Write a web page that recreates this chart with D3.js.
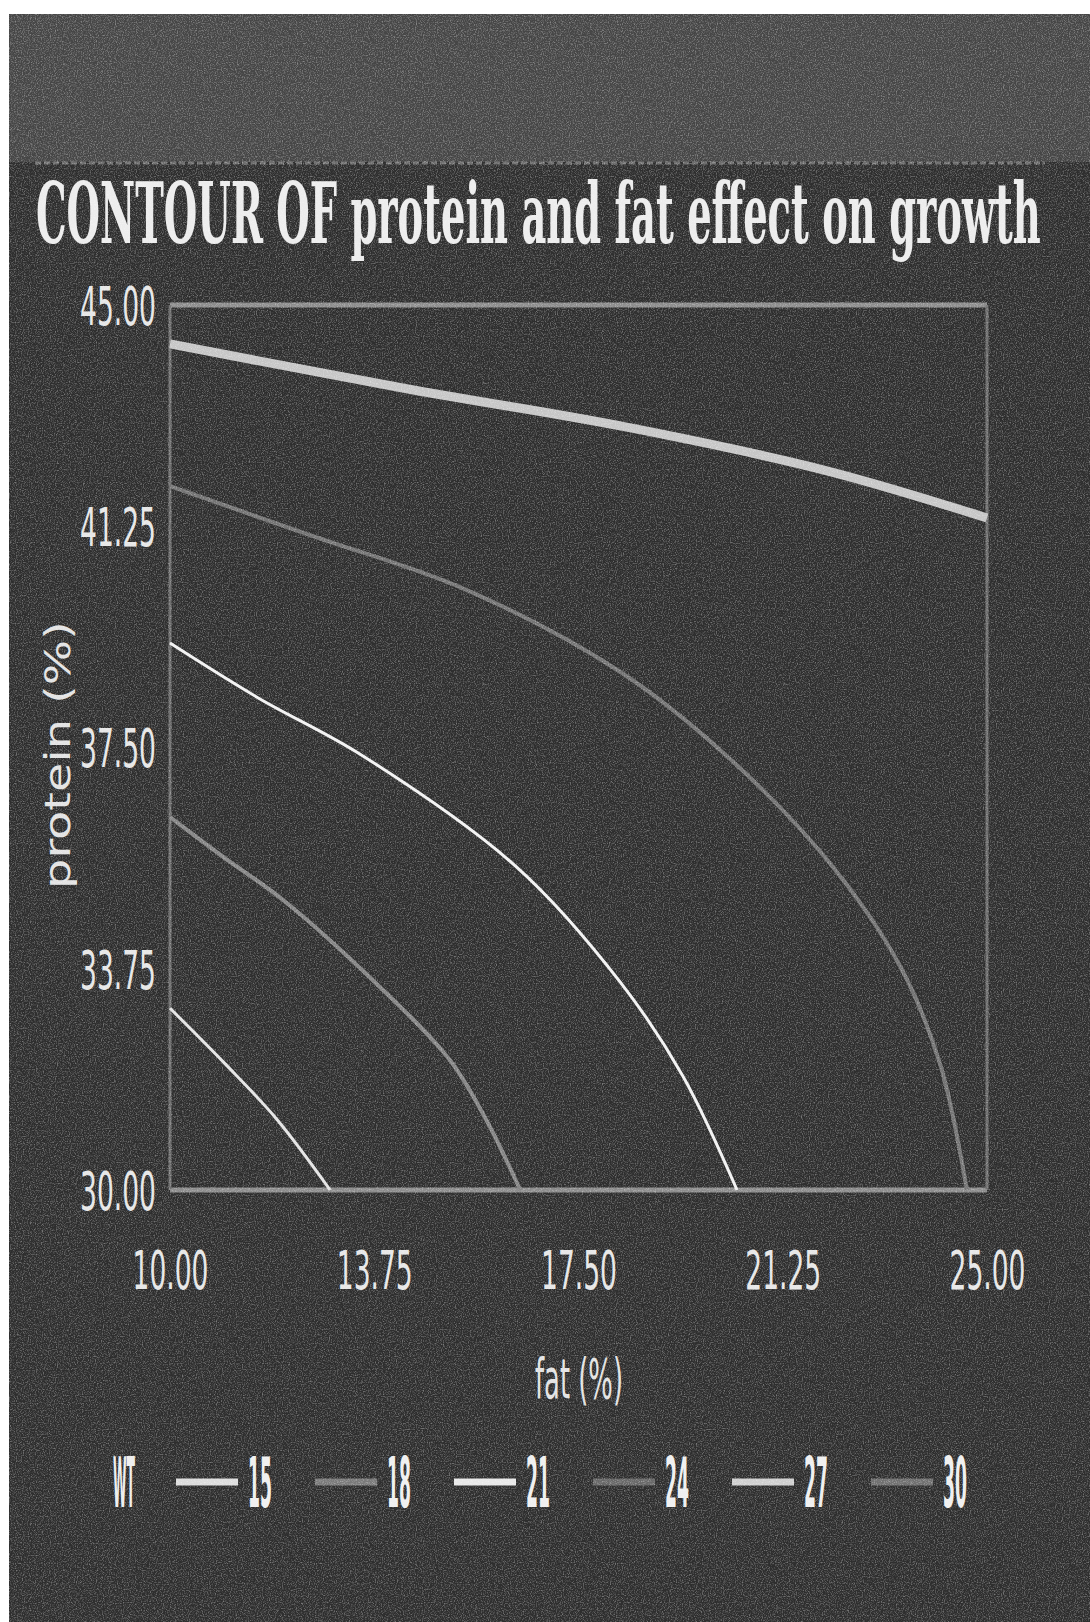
<!DOCTYPE html>
<html>
<head>
<meta charset="utf-8">
<script src="https://cdn.jsdelivr.net/npm/d3@7"></script>
<style>
  html, body { margin: 0; padding: 0; background: #fff; }
  svg { display: block; }
</style>
</head>
<body>
<div id="chart"></div>
<script>
const W = 1090
const H = 1622

// axis values
const fatTicks = [10, 13.75, 17.5, 21.25, 25]
const proteinTicks = [45, 41.25, 37.5, 33.75, 30]
const levels = [15, 18, 21, 24, 27, 30]

// contour lines: [fat, protein]
const c15 = [[10, 33.08], [11, 32.15], [11.96, 31.2], [12.94, 30]]
const c18 = [[10, 36.32], [11, 35.63], [12.07, 34.92], [13.91, 33.39], [15.14, 32.2], [15.8, 31.2], [16.43, 30]]
const c21 = [[10, 39.27], [11.62, 38.34], [13.52, 37.37], [16.37, 35.47], [18.27, 33.52], [19.41, 31.94], [20.41, 30]]
const c24 = [[10, 41.93], [12.57, 41.1], [15.42, 40.18], [18.27, 38.78], [20.17, 37.4], [22.06, 35.6], [23.4, 33.8], [24.15, 32.1], [24.63, 30]]
const c27 = [[10, 44.34], [14.47, 43.56], [18.27, 42.95], [22.06, 42.19], [25, 41.39]]
const c30 = []
const contours = [c15, c18, c21, c24, c27, c30]

const lineColor = ['#e4e4e4', '#858585', '#f2f2f2', '#747474', '#c6c6c6', '#6a6a6a']
const lineWidth = [3, 4, 3, 4, 9, 4]
const legendColor = ['#dcdcdc', '#7a7a7a', '#e8e8e8', '#686868', '#cfcfcf', '#707070']

const margin = {left: 170, right: W - 987, top: 305, bottom: H - 1190}

const svg = d3.select('#chart').append('svg')
  .attr('width', W)
  .attr('height', H)

// squeeze a text horizontally so it is `width` wide, placed at (x, y)
function fit(sel, x, y, width) {
  sel.each(function () {
    const len = this.getComputedTextLength()
    d3.select(this)
      .attr('x', 0).attr('y', 0)
      .attr('transform', `translate(${x},${y}) scale(${width / len},1)`)
  })
}

const defs = svg.append('defs')
const grain = defs.append('filter').attr('id', 'grain')
  .attr('x', 0).attr('y', 0).attr('width', '100%').attr('height', '100%')
grain.append('feTurbulence')
  .attr('type', 'fractalNoise')
  .attr('baseFrequency', 0.85)
  .attr('numOctaves', 2)
  .attr('seed', 4)
grain.append('feColorMatrix')
  .attr('type', 'matrix')
  .attr('values', '0 0 0 0 1  0 0 0 0 1  0 0 0 0 1  0 0 0 2.6 -1.15')

// dark panel with lighter band on top
svg.append('rect').attr('x', 9).attr('y', 14).attr('width', W - 9).attr('height', H - 14).attr('fill', '#2e2e2e')
svg.append('rect').attr('x', 9).attr('y', 14).attr('width', W - 9).attr('height', 148).attr('fill', '#464646')
svg.append('line')
  .attr('x1', 35).attr('x2', 1045).attr('y1', 163).attr('y2', 163)
  .attr('stroke', '#8a8a8a').attr('stroke-width', 3).attr('stroke-dasharray', '6 3')
  .attr('opacity', 0.7)

svg.append('text')
  .attr('fill', '#ececec')
  .style('font-family', '"DejaVu Serif", "Liberation Serif", serif')
  .style('font-weight', 'bold')
  .style('font-size', '84px')
  .text('CONTOUR OF protein and fat effect on growth')
  .call(fit, 36, 243, 1005)

const x = d3.scaleLinear().domain([10, 25]).range([margin.left, W - margin.right])
const y = d3.scaleLinear().domain([30, 45]).range([H - margin.bottom, margin.top])

// frame
const frame = svg.append('g')
frame.append('line').attr('x1', x(10)).attr('x2', x(25)).attr('y1', y(45)).attr('y2', y(45))
  .attr('stroke', '#8c8c8c').attr('stroke-width', 5)
frame.append('line').attr('x1', x(10)).attr('x2', x(25)).attr('y1', y(30)).attr('y2', y(30))
  .attr('stroke', '#8c8c8c').attr('stroke-width', 5)
frame.append('line').attr('x1', x(10)).attr('x2', x(10)).attr('y1', y(45)).attr('y2', y(30))
  .attr('stroke', '#6e6e6e').attr('stroke-width', 3)
frame.append('line').attr('x1', x(25)).attr('x2', x(25)).attr('y1', y(45)).attr('y2', y(30))
  .attr('stroke', '#6e6e6e').attr('stroke-width', 3)

const tickFont = '"DejaVu Sans", "Liberation Sans", sans-serif'

const yAxis = svg.append('g')
  .attr('transform', `translate(${margin.left - 14},0)`)
  .call(d3.axisLeft(y).tickValues(proteinTicks).tickSize(0).tickFormat(d3.format('.2f')))
yAxis.select('.domain').remove()
yAxis.selectAll('text')
  .attr('dy', '0.36em')
  .attr('fill', '#e6e6e6')
  .style('font-family', tickFont)
  .style('font-size', '54px')
  .call(fit, 0, 0, 76)

const xAxis = svg.append('g')
  .attr('transform', `translate(0,${H - margin.bottom})`)
  .call(d3.axisBottom(x).tickValues(fatTicks).tickSize(0).tickFormat(d3.format('.2f')))
xAxis.select('.domain').remove()
xAxis.selectAll('text')
  .attr('dy', '0.36em')
  .attr('fill', '#e6e6e6')
  .style('font-family', tickFont)
  .style('font-size', '54px')
  .call(fit, 0, 80, 76)

svg.append('text')
  .attr('dy', '0.36em')
  .attr('text-anchor', 'middle')
  .attr('fill', '#e2e2e2')
  .style('font-family', tickFont)
  .style('font-size', '56px')
  .text('fat (%)')
  .call(fit, 579, 1378, 88)

const yLabel = svg.append('g').attr('transform', 'translate(57,755) rotate(-90)')
yLabel.append('text')
  .attr('dy', '0.36em')
  .attr('text-anchor', 'middle')
  .attr('fill', '#e2e2e2')
  .style('font-family', tickFont)
  .style('font-size', '36px')
  .text('protein (%)')
  .call(fit, 0, 0, 268)

// contours
const line = d3.line()
  .x(d => x(d[0]))
  .y(d => y(d[1]))
  .curve(d3.curveCatmullRom.alpha(0.5))

svg.append('g').selectAll('path')
  .data(contours)
  .join('path')
  .attr('d', d => d.length ? line(d) : null)
  .attr('fill', 'none')
  .attr('stroke', (d, i) => lineColor[i])
  .attr('stroke-width', (d, i) => lineWidth[i])

// legend
const legendFont = '"DejaVu Sans Condensed", "DejaVu Sans", sans-serif'
const legend = svg.append('g').attr('transform', 'translate(0,1482)')
legend.append('text')
  .attr('dy', '0.36em')
  .attr('text-anchor', 'middle')
  .attr('fill', '#ededed')
  .style('font-family', legendFont)
  .style('font-weight', 'bold')
  .style('font-size', '70px')
  .text('WT')
  .call(fit, 124, 0, 22)

const item = legend.selectAll('g.item')
  .data(levels)
  .join('g')
  .attr('class', 'item')
  .attr('transform', (d, i) => `translate(${176 + i * 139},0)`)
item.append('line')
  .attr('x1', 0).attr('x2', 62)
  .attr('stroke', (d, i) => legendColor[i])
  .attr('stroke-width', 7)
item.append('text')
  .attr('dy', '0.36em')
  .attr('text-anchor', 'middle')
  .attr('fill', '#efefef')
  .style('font-family', legendFont)
  .style('font-weight', 'bold')
  .style('font-size', '70px')
  .text(d => d)
  .call(fit, 84, 0, 24)

// film grain on top
svg.append('rect')
  .attr('x', 9).attr('y', 14).attr('width', W - 9).attr('height', H - 14)
  .attr('filter', 'url(#grain)')
  .attr('opacity', 0.35)
</script>
</body>
</html>
